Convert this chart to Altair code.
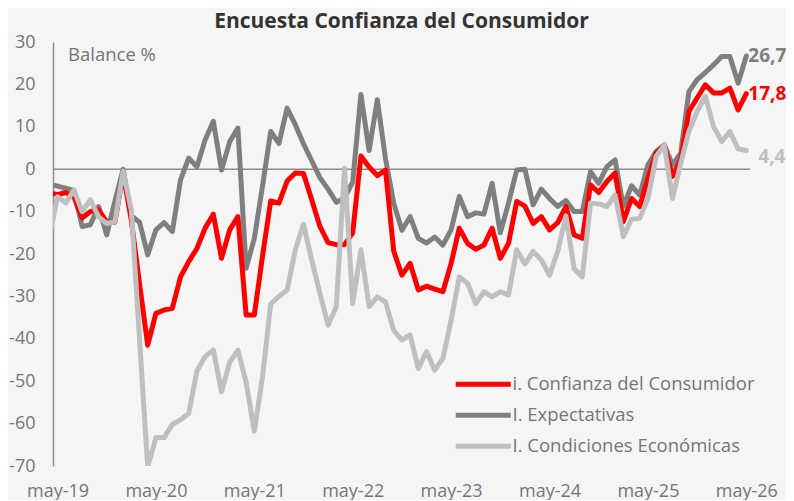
import altair as alt
import pandas as pd

FONT = "Open Sans"

# Monthly observations, Apr 2019 .. May 2026 (Apr 2019 sits just left of the axis and is clipped)
months = [d.strftime("%Y-%m") for d in pd.date_range("2019-04-01", "2026-05-01", freq="MS")]

confianza = [
    -5.5,
    -6, -5.5, -6.5, -11.5, -10, -9.5, -12.5, -12.5, -1, -12, -27, -41.5,
    -34, -33.2, -32.8, -25.4, -21.8, -18.7, -13.9, -10.6, -21, -14.3, -11.2, -34.4,
    -34.4, -20.5, -7.5, -8, -2.8, -0.9, -1, -7.2, -13.5, -17.3, -17.8, -17.8,
    -15, 3.1, 0.5, -1.5, -0.2, -19.3, -25, -22.2, -28.5, -27.6, -28.3, -28.9,
    -22.2, -13.9, -17.5, -18.9, -17.9, -13.9, -21, -17.5, -7.6, -8.7, -12.8, -11.2,
    -14.3, -12.6, -8.8, -15.5, -16.3, -3.7, -5.5, -2.9, -0.9, -12.4, -6.9, -8.8,
    -2.2, 3.8, 5.7, -1.7, 2.2, 13.6, 16.8, 19.9, 18, 18, 19.1, 14, 17.8,
]
expectativas = [
    -3.5,
    -4, -4.5, -5, -13.5, -13.1, -8.8, -15.5, -7.5, 0, -11, -12.5, -20.2,
    -14.3, -12.6, -14.7, -2.5, 2.6, 0.6, 6.9, 11.3, -0.2, 6.5, 9.7, -23.4,
    -16.3, -4, 8.9, 6.1, 14.4, 10.5, 6, 2, -2, -4.7, -7.8, -6.8,
    -3, 17.6, 4.4, 16.4, 2.5, -8, -14.4, -11.2, -16.3, -17.4, -16, -17.9,
    -14.3, -6.4, -11.2, -10.3, -10.6, -3.3, -15, -8, -0.2, 0, -8.4, -4.7,
    -6.9, -8.8, -7.4, -10, -10, -0.6, -3.3, 0.6, 2.2, -8.8, -3.9, -6.1,
    1, 4.2, 5.7, 1, 3.8, 18.3, 21.1, 22.8, 24.6, 26.6, 26.6, 20.3, 26.7,
]
condiciones = [
    -16,
    -6.5, -8, -4.9, -10, -7.2, -11.2, -12.8, -12.4, -0.5, -9.6, -40, -70.2,
    -63.3, -63.3, -60.2, -59.1, -57.6, -47.6, -44.2, -42.6, -52.5, -45.5, -42.7, -50.2,
    -61.8, -49, -31.8, -30, -28.5, -19, -13, -21.4, -29.3, -36.8, -32.4, 0.2,
    -31.7, -19, -32.4, -30.1, -31.3, -38, -40.3, -39.1, -47, -43, -47.4, -44.6,
    -35.6, -25.4, -26.9, -31.7, -28.9, -30.1, -28.9, -29.7, -19, -22.4, -19.4, -21.4,
    -25, -19.4, -11, -23.4, -25.4, -8, -8.2, -8.8, -6.1, -15.9, -11.8, -11.6,
    -6.9, 3, 5.7, -6.9, 1.4, 8.9, 13.6, 17.2, 10.1, 6.5, 8.9, 4.8, 4.4,
]

names = ["i. Confianza del Consumidor", "I. Expectativas", "I. Condiciones Económicas"]
colors = ["#ff0000", "#7f7f7f", "#bfbfbf"]
series = [confianza, expectativas, condiciones]
year_ticks = [0, 12, 24, 36, 48, 60, 72, 84]

rows = []
for name, vals in zip(names, series):
    for k, v in enumerate(vals):
        rows.append({"serie": name, "idx": k - 1, "mes": months[k], "valor": v})
df = pd.DataFrame(rows)

end_rows = []
for name, vals in zip(names, series):
    end_rows.append({"serie": name, "idx": len(vals) - 2, "valor": vals[-1],
                     "texto": f"{vals[-1]:.1f}".replace(".", ",")})
df_end = pd.DataFrame(end_rows)

W, H = 697, 424
xscale = alt.Scale(domain=[-0.55, 84.45], nice=False, zero=False)
yscale = alt.Scale(domain=[-70, 30], nice=False, zero=False)

x_enc = alt.X("idx:Q", scale=xscale, axis=alt.Axis(
    values=year_ticks, labelExpr="'may-' + (19 + floor(datum.value / 12))",
    domain=False, ticks=False, grid=False, title=None, labelFlush=False,
    labelFontSize=18, labelColor="#757575", labelFont=FONT, labelPadding=16))
y_enc = alt.Y("valor:Q", scale=yscale, axis=alt.Axis(
    values=list(range(-70, 31, 10)), labelExpr="'' + datum.value",
    domain=True, domainColor="#8c8c8c", domainWidth=1.5, ticks=False, grid=False,
    title=None, labelFontSize=18, labelColor="#757575", labelFont=FONT, labelPadding=18))
color_enc = alt.Color("serie:N", scale=alt.Scale(domain=names, range=colors),
                      legend=alt.Legend(title=None, orient="none", legendX=421, legendY=333,
                                        symbolType="M-5,0H5", symbolSize=121, symbolStrokeWidth=5,
                                        labelFontSize=18.5, labelColor="#757575", labelFont=FONT,
                                        rowPadding=10, padding=0, labelOffset=20, labelLimit=400))

zero = alt.Chart(pd.DataFrame({"valor": [0]})).mark_rule(color="#8c8c8c", strokeWidth=1.5).encode(
    y=alt.Y("valor:Q", scale=yscale))

def line(name):
    return alt.Chart(df).transform_filter(alt.datum.serie == name).mark_line(
        strokeWidth=5, strokeJoin="round", strokeCap="round", clip=True
    ).encode(x=x_enc, y=y_enc, color=color_enc, order="idx:Q")

def end_label(k, dx, dy):
    return alt.Chart(df_end).transform_filter(alt.datum.serie == names[k]).mark_text(
        align="left", baseline="middle", dx=dx, dy=dy, fontSize=19, fontWeight="bold",
        font=FONT, color=colors[k]
    ).encode(x=alt.X("idx:Q", scale=xscale), y=alt.Y("valor:Q", scale=yscale), text="texto:N")

balance = alt.Chart(pd.DataFrame({"t": ["Balance %"]})).mark_text(
    align="left", baseline="middle", fontSize=18.5, color="#757575", font=FONT
).encode(x=alt.value(15), y=alt.value(13), text="t:N")

chart = alt.layer(
    zero, line(names[1]), line(names[0]), line(names[2]),
    end_label(1, 2, 0), end_label(0, 2, 0), end_label(2, 12, 6), balance
).properties(
    width=W, height=H,
    title=alt.Title("Encuesta Confianza del Consumidor", fontSize=21, fontWeight="bold",
                    color="#333333", font=FONT, anchor="middle", offset=1),
    padding={"left": 45, "top": 34, "right": 36, "bottom": 34},
    autosize=alt.AutoSizeParams(type="none"),
).configure(background="#f5f5f5").configure_view(stroke=None)

chart.save("out.html", embed_options={"renderer": "svg", "actions": False})
